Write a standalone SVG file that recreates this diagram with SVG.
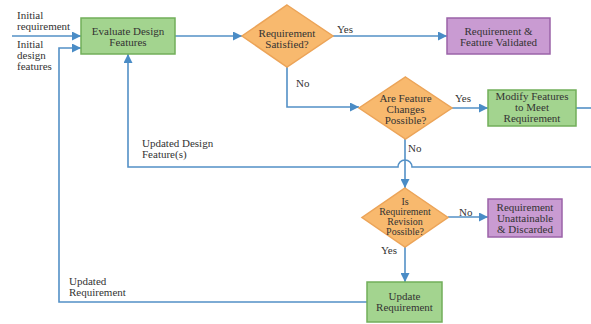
<svg xmlns="http://www.w3.org/2000/svg" width="591" height="324" viewBox="0 0 591 324">
<style>
text{font-family:"Liberation Serif","Times New Roman",serif;font-size:11px;fill:#333}
.c{text-anchor:middle}
.s{font-size:10px}
.g{fill:#a3d48f;stroke:#72ae5a;stroke-width:1.5}
.o{fill:#f8b96e;stroke:#eca458;stroke-width:1.5}
.p{fill:#c99bd2;stroke:#9a63a8;stroke-width:1.5}
.l{fill:none;stroke:#5390c6;stroke-width:1.6}
</style>
<defs>
<marker id="a" viewBox="0 0 10 10" refX="10" refY="5" markerWidth="10" markerHeight="9" markerUnits="userSpaceOnUse" orient="auto">
<path d="M0,0 L10,5 L0,10 z" fill="#4a8cc6"/>
</marker>
</defs>
<rect width="591" height="324" fill="#fff"/>
<g id="connectors">
<path class="l" d="M12,36 H81" marker-end="url(#a)"/>
<path class="l" d="M367,302 H59 V48 H81" marker-end="url(#a)"/>
<path class="l" d="M175,36 H242" marker-end="url(#a)"/>
<path class="l" d="M333,36 H447" marker-end="url(#a)"/>
<path class="l" d="M287,67 V107 H359" marker-end="url(#a)"/>
<path class="l" d="M452,108 H488" marker-end="url(#a)"/>
<path class="l" d="M576,108 H591"/>
<path class="l" d="M591,167 H412 A6,6 0 0 0 398,167 H128 V54" marker-end="url(#a)"/>
<path class="l" d="M405,139 V188" marker-end="url(#a)"/>
<path class="l" d="M448,217 H488" marker-end="url(#a)"/>
<path class="l" d="M405,247 V282" marker-end="url(#a)"/>
<text x="17" y="19">Initial</text>
<text x="17" y="30">requirement</text>
<text x="17" y="48">Initial</text>
<text x="17" y="59">design</text>
<text x="17" y="70">features</text>
<text x="337" y="33">Yes</text>
<text x="296" y="87">No</text>
<text x="455" y="102">Yes</text>
<text x="408" y="152">No</text>
<text x="142" y="147">Updated Design</text>
<text x="142" y="158">Feature(s)</text>
<text x="459" y="216">No</text>
<text x="381" y="254">Yes</text>
<text x="69" y="285">Updated</text>
<text x="69" y="296">Requirement</text>
</g>
<g id="evaluate">
<rect class="g" x="81" y="18" width="94" height="36"/>
<text class="c" x="128" y="35">Evaluate Design</text>
<text class="c" x="128" y="46">Features</text>
</g>
<g id="satisfied">
<path class="o" d="M287,5 L333,36 L287,67 L242,36 z"/>
<text class="c" x="287" y="37">Requirement</text>
<text class="c" x="287" y="48">Satisfied?</text>
</g>
<g id="validated">
<rect class="p" x="447" y="18" width="103" height="36"/>
<text class="c" x="498.5" y="35">Requirement &amp;</text>
<text class="c" x="498.5" y="46">Feature Validated</text>
</g>
<g id="changes">
<path class="o" d="M405.5,77 L452,108 L405.5,139 L359,108 z"/>
<text class="c" x="405.5" y="102">Are Feature</text>
<text class="c" x="405.5" y="113">Changes</text>
<text class="c" x="405.5" y="124">Possible?</text>
</g>
<g id="modify">
<rect class="g" x="488" y="90" width="88" height="36"/>
<text class="c" x="532" y="100">Modify Features</text>
<text class="c" x="532" y="111">to Meet</text>
<text class="c" x="532" y="122">Requirement</text>
</g>
<g id="revision">
<path class="o" d="M405,188 L448,217.5 L405,247 L362,217.5 z"/>
<text class="c s" x="405" y="205">Is</text>
<text class="c s" x="405" y="215">Requirement</text>
<text class="c s" x="405" y="225">Revision</text>
<text class="c s" x="405" y="235">Possible?</text>
</g>
<g id="discarded">
<rect class="p" x="488" y="199" width="74" height="38"/>
<text class="c" x="525" y="211">Requirement</text>
<text class="c" x="525" y="222">Unattainable</text>
<text class="c" x="525" y="233">&amp; Discarded</text>
</g>
<g id="update">
<rect class="g" x="367" y="282" width="75" height="40"/>
<text class="c" x="404.5" y="300">Update</text>
<text class="c" x="404.5" y="311">Requirement</text>
</g>
</svg>
